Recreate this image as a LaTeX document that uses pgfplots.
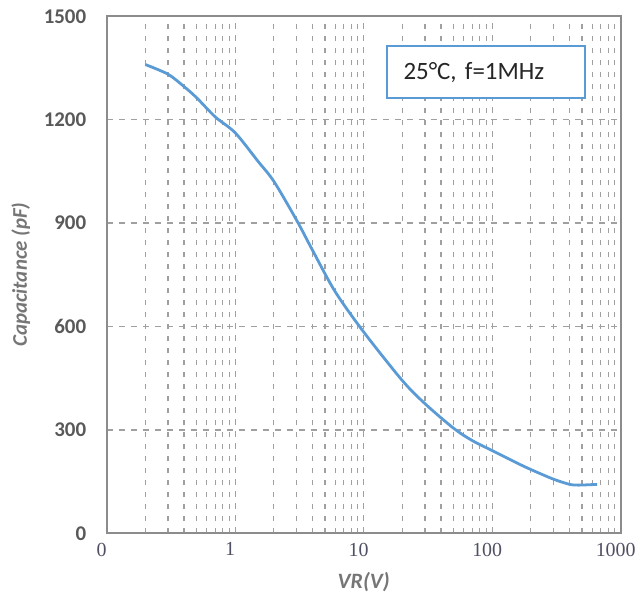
\documentclass[border=0pt]{standalone}
\usepackage{pgfplots}
\pgfplotsset{compat=1.18}
\usepackage{fontspec}
\setmainfont{Carlito}
\newfontfamily\timesfont{Liberation Serif}

\definecolor{curveblue}{RGB}{91,155,213}
\definecolor{gridgray}{RGB}{160,160,160}
\definecolor{framegray}{RGB}{140,140,140}
\definecolor{labelgray}{RGB}{118,118,118}
\definecolor{tickgray}{RGB}{89,89,89}
\definecolor{xtickcol}{RGB}{80,80,100}

\begin{document}
\begin{tikzpicture}
\begin{axis}[
    scale only axis,
    width=514bp,
    height=517bp,
    xmode=log,
    log basis x=10,
    xmin=0.1, xmax=1000,
    ymin=0, ymax=1500,
    xtick={0.1,1,10,100,1000},
    xticklabels={0,1,10,100,1000},
    minor xtick={0.2,0.3,0.4,0.5,0.6,0.7,0.8,0.9,
                 2,3,4,5,6,7,8,9,
                 20,30,40,50,60,70,80,90,
                 200,300,400,500,600,700,800,900},
    ytick={0,300,600,900,1200,1500},
    xmajorgrids, xminorgrids, ymajorgrids,
    major grid style={gridgray, line width=1.2bp, dash pattern=on 6bp off 6bp},
    minor grid style={gridgray, line width=1.2bp, dash pattern=on 5bp off 7bp},
    major tick length=0pt,
    minor tick length=0pt,
    axis line style={framegray, line width=2.2bp},
    /pgf/number format/assume math mode=true,
    /pgf/number format/1000 sep={},
    yticklabel style={font=\fontsize{21}{25}\selectfont\bfseries, text=tickgray, xshift=-17bp},
    xticklabel style={font=\timesfont\fontsize{20}{24}\selectfont, text=xtickcol, xshift=-5bp, yshift=-6bp},
    xlabel={VR(V)},
    ylabel={Capacitance (pF)},
    xlabel style={at={(rel axis cs:0.5,-0.1058)}, anchor=base,
        font=\fontsize{22}{26}\selectfont\bfseries\itshape, text=labelgray},
    ylabel style={at={(rel axis cs:-0.1672,0.5)}, anchor=center,
        font=\fontsize{21}{25}\selectfont\bfseries\itshape, text=labelgray},
]
\addplot[curveblue, line width=2.8bp, smooth, tension=0.5] coordinates {
    (0.2,1360) (0.3,1332) (0.4,1296) (0.5,1264) (0.7,1208)
    (1.0,1162) (1.5,1080) (2.0,1021) (3.0,909) (4.0,821)
    (6.0,701) (10,584) (20,443) (30,376) (50,305)
    (70,269) (100,240) (150,207) (200,185) (300,157)
    (400,142) (450,140) (500,140) (656,142)
};
\node[draw=curveblue, line width=2bp, fill=white, anchor=west,
      inner xsep=17bp, text width=164bp, minimum height=52bp, align=left,
      font=\fontsize{25}{30}\selectfont, text=black!85]
      at (rel axis cs:0.5425,0.892) {25°C, f=1MHz};
\end{axis}
\path (current axis.south west) ++(-106.7bp,-67.7bp) rectangle ++(639bp,601bp);
\end{tikzpicture}
\end{document}
